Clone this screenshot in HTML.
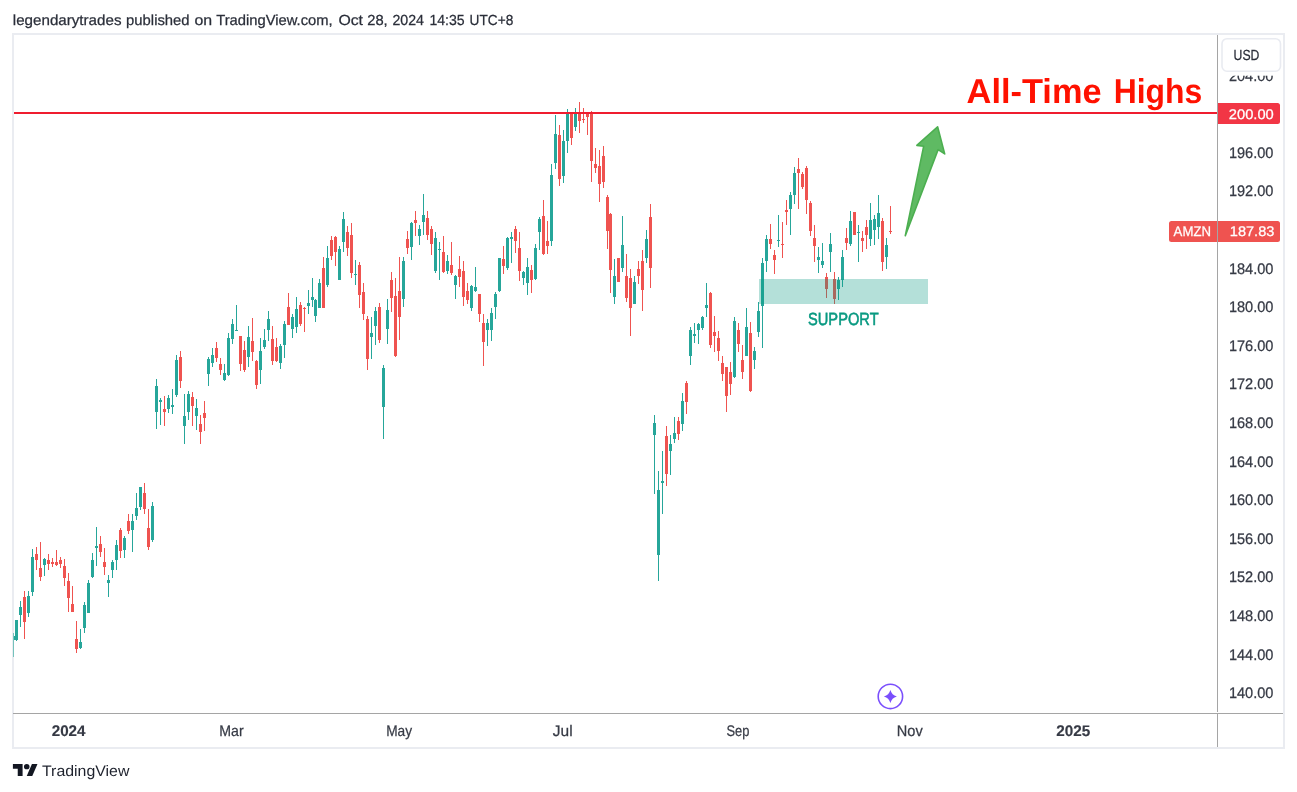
<!DOCTYPE html>
<html><head><meta charset="utf-8"><title>AMZN chart</title>
<style>
html,body{margin:0;padding:0;background:#fff;}
body{width:1297px;height:792px;overflow:hidden;position:relative;font-family:"Liberation Sans", Arial, sans-serif;}
svg{position:absolute;left:0;top:0;display:block;}
svg text{font-family:"Liberation Sans", Arial, sans-serif;text-rendering:geometricPrecision;}
</style></head><body>
<svg width="1297" height="792" viewBox="0 0 1297 792">
<rect x="0" y="0" width="1297" height="792" fill="#fff"/>
<!-- frame -->
<rect x="13" y="34" width="1271" height="714" fill="#fff" stroke="#eaecf1" stroke-width="2" shape-rendering="crispEdges"/>
<text y="25" font-size="14.6" fill="#2a2e39" stroke="#2a2e39" stroke-width="0.25"><tspan x="12.8" textLength="108.7" lengthAdjust="spacingAndGlyphs">legendarytrades</tspan> <tspan x="126.1" textLength="63.5" lengthAdjust="spacingAndGlyphs">published</tspan> <tspan x="194.4" textLength="17.7" lengthAdjust="spacingAndGlyphs">on</tspan> <tspan x="216.2" textLength="116.5" lengthAdjust="spacingAndGlyphs">TradingView.com,</tspan> <tspan x="338.4" textLength="24.6" lengthAdjust="spacingAndGlyphs">Oct</tspan> <tspan x="367.2" textLength="20.5" lengthAdjust="spacingAndGlyphs">28,</tspan> <tspan x="392.4" textLength="31.6" lengthAdjust="spacingAndGlyphs">2024</tspan> <tspan x="429.4" textLength="35.3" lengthAdjust="spacingAndGlyphs">14:35</tspan> <tspan x="469.6" textLength="43.7" lengthAdjust="spacingAndGlyphs">UTC+8</tspan></text>
<!-- price labels -->
<text x="1228.9" y="81" font-size="15.3" fill="#363a45" stroke="#363a45" stroke-width="0.25" font-weight="normal" text-anchor="start" textLength="44.6" lengthAdjust="spacingAndGlyphs">204.00</text>
<text x="1228.9" y="158" font-size="15.3" fill="#363a45" stroke="#363a45" stroke-width="0.25" font-weight="normal" text-anchor="start" textLength="44.6" lengthAdjust="spacingAndGlyphs">196.00</text>
<text x="1228.9" y="196" font-size="15.3" fill="#363a45" stroke="#363a45" stroke-width="0.25" font-weight="normal" text-anchor="start" textLength="44.6" lengthAdjust="spacingAndGlyphs">192.00</text>
<text x="1228.9" y="274" font-size="15.3" fill="#363a45" stroke="#363a45" stroke-width="0.25" font-weight="normal" text-anchor="start" textLength="44.6" lengthAdjust="spacingAndGlyphs">184.00</text>
<text x="1228.9" y="312" font-size="15.3" fill="#363a45" stroke="#363a45" stroke-width="0.25" font-weight="normal" text-anchor="start" textLength="44.6" lengthAdjust="spacingAndGlyphs">180.00</text>
<text x="1228.9" y="351" font-size="15.3" fill="#363a45" stroke="#363a45" stroke-width="0.25" font-weight="normal" text-anchor="start" textLength="44.6" lengthAdjust="spacingAndGlyphs">176.00</text>
<text x="1228.9" y="389" font-size="15.3" fill="#363a45" stroke="#363a45" stroke-width="0.25" font-weight="normal" text-anchor="start" textLength="44.6" lengthAdjust="spacingAndGlyphs">172.00</text>
<text x="1228.9" y="428" font-size="15.3" fill="#363a45" stroke="#363a45" stroke-width="0.25" font-weight="normal" text-anchor="start" textLength="44.6" lengthAdjust="spacingAndGlyphs">168.00</text>
<text x="1228.9" y="467" font-size="15.3" fill="#363a45" stroke="#363a45" stroke-width="0.25" font-weight="normal" text-anchor="start" textLength="44.6" lengthAdjust="spacingAndGlyphs">164.00</text>
<text x="1228.9" y="505" font-size="15.3" fill="#363a45" stroke="#363a45" stroke-width="0.25" font-weight="normal" text-anchor="start" textLength="44.6" lengthAdjust="spacingAndGlyphs">160.00</text>
<text x="1228.9" y="544" font-size="15.3" fill="#363a45" stroke="#363a45" stroke-width="0.25" font-weight="normal" text-anchor="start" textLength="44.6" lengthAdjust="spacingAndGlyphs">156.00</text>
<text x="1228.9" y="582" font-size="15.3" fill="#363a45" stroke="#363a45" stroke-width="0.25" font-weight="normal" text-anchor="start" textLength="44.6" lengthAdjust="spacingAndGlyphs">152.00</text>
<text x="1228.9" y="621" font-size="15.3" fill="#363a45" stroke="#363a45" stroke-width="0.25" font-weight="normal" text-anchor="start" textLength="44.6" lengthAdjust="spacingAndGlyphs">148.00</text>
<text x="1228.9" y="660" font-size="15.3" fill="#363a45" stroke="#363a45" stroke-width="0.25" font-weight="normal" text-anchor="start" textLength="44.6" lengthAdjust="spacingAndGlyphs">144.00</text>
<text x="1228.9" y="698" font-size="15.3" fill="#363a45" stroke="#363a45" stroke-width="0.25" font-weight="normal" text-anchor="start" textLength="44.6" lengthAdjust="spacingAndGlyphs">140.00</text>
<!-- candles -->
<g shape-rendering="crispEdges">
<rect x="13" y="633" width="1" height="24" fill="#26a69a" opacity="0.6"/><rect x="14" y="636" width="1" height="4" fill="#26a69a"/>
<rect x="16" y="620" width="1" height="21" fill="#26a69a"/>
<rect x="20" y="601" width="1" height="26" fill="#26a69a"/>
<rect x="24" y="591" width="1" height="48" fill="#ef5350"/>
<rect x="28" y="591" width="1" height="26" fill="#26a69a"/>
<rect x="32" y="549" width="1" height="47" fill="#26a69a"/>
<rect x="36" y="547" width="1" height="23" fill="#ef5350"/>
<rect x="40" y="542" width="1" height="39" fill="#ef5350"/>
<rect x="44" y="558" width="1" height="18" fill="#26a69a"/>
<rect x="48" y="554" width="1" height="16" fill="#ef5350"/>
<rect x="52" y="558" width="1" height="9" fill="#ef5350"/>
<rect x="56" y="550" width="1" height="16" fill="#ef5350"/>
<rect x="60" y="557" width="1" height="11" fill="#ef5350"/>
<rect x="64" y="559" width="1" height="27" fill="#ef5350"/>
<rect x="68" y="573" width="1" height="39" fill="#ef5350"/>
<rect x="72" y="586" width="1" height="26" fill="#ef5350"/>
<rect x="76" y="621" width="1" height="32" fill="#ef5350"/>
<rect x="80" y="629" width="1" height="20" fill="#26a69a"/>
<rect x="84" y="602" width="1" height="31" fill="#26a69a"/>
<rect x="88" y="580" width="1" height="33" fill="#26a69a"/>
<rect x="92" y="553" width="1" height="25" fill="#26a69a"/>
<rect x="96" y="527" width="1" height="39" fill="#26a69a"/>
<rect x="100" y="536" width="1" height="21" fill="#ef5350"/>
<rect x="104" y="548" width="1" height="27" fill="#ef5350"/>
<rect x="108" y="575" width="1" height="22" fill="#26a69a"/>
<rect x="112" y="560" width="1" height="18" fill="#26a69a"/>
<rect x="116" y="540" width="1" height="30" fill="#26a69a"/>
<rect x="120" y="528" width="1" height="30" fill="#ef5350"/>
<rect x="124" y="536" width="1" height="22" fill="#26a69a"/>
<rect x="128" y="514" width="1" height="20" fill="#ef5350"/>
<rect x="132" y="514" width="1" height="38" fill="#26a69a"/>
<rect x="136" y="493" width="1" height="27" fill="#26a69a"/>
<rect x="140" y="487" width="1" height="23" fill="#26a69a"/>
<rect x="144" y="483" width="1" height="31" fill="#ef5350"/>
<rect x="148" y="509" width="1" height="41" fill="#ef5350"/>
<rect x="152" y="502" width="1" height="40" fill="#26a69a"/>
<rect x="156" y="379" width="1" height="50" fill="#26a69a"/>
<rect x="160" y="398" width="1" height="27" fill="#26a69a"/>
<rect x="164" y="396" width="1" height="30" fill="#ef5350"/>
<rect x="168" y="395" width="1" height="18" fill="#26a69a"/>
<rect x="172" y="389" width="1" height="25" fill="#26a69a"/>
<rect x="176" y="355" width="1" height="42" fill="#26a69a"/>
<rect x="180" y="351" width="1" height="37" fill="#ef5350"/>
<rect x="184" y="394" width="1" height="50" fill="#26a69a"/>
<rect x="188" y="391" width="1" height="29" fill="#26a69a"/>
<rect x="192" y="392" width="1" height="34" fill="#ef5350"/>
<rect x="196" y="399" width="1" height="31" fill="#26a69a"/>
<rect x="200" y="415" width="1" height="29" fill="#ef5350"/>
<rect x="204" y="401" width="1" height="30" fill="#ef5350"/>
<rect x="208" y="357" width="1" height="29" fill="#26a69a"/>
<rect x="212" y="348" width="1" height="19" fill="#26a69a"/>
<rect x="216" y="342" width="1" height="20" fill="#ef5350"/>
<rect x="220" y="358" width="1" height="17" fill="#ef5350"/>
<rect x="224" y="364" width="1" height="17" fill="#26a69a"/>
<rect x="228" y="333" width="1" height="43" fill="#26a69a"/>
<rect x="232" y="319" width="1" height="25" fill="#26a69a"/>
<rect x="236" y="305" width="1" height="26" fill="#26a69a"/>
<rect x="240" y="336" width="1" height="35" fill="#ef5350"/>
<rect x="244" y="341" width="1" height="31" fill="#ef5350"/>
<rect x="248" y="326" width="1" height="41" fill="#26a69a"/>
<rect x="252" y="318" width="1" height="43" fill="#ef5350"/>
<rect x="256" y="360" width="1" height="29" fill="#ef5350"/>
<rect x="260" y="338" width="1" height="46" fill="#26a69a"/>
<rect x="264" y="329" width="1" height="20" fill="#26a69a"/>
<rect x="268" y="311" width="1" height="30" fill="#26a69a"/>
<rect x="272" y="326" width="1" height="39" fill="#ef5350"/>
<rect x="276" y="338" width="1" height="24" fill="#ef5350"/>
<rect x="280" y="344" width="1" height="25" fill="#26a69a"/>
<rect x="284" y="321" width="1" height="37" fill="#26a69a"/>
<rect x="288" y="293" width="1" height="32" fill="#ef5350"/>
<rect x="292" y="314" width="1" height="24" fill="#26a69a"/>
<rect x="296" y="297" width="1" height="36" fill="#26a69a"/>
<rect x="300" y="302" width="1" height="24" fill="#ef5350"/>
<rect x="304" y="307" width="1" height="25" fill="#ef5350"/>
<rect x="308" y="290" width="1" height="24" fill="#26a69a"/>
<rect x="312" y="278" width="1" height="29" fill="#26a69a"/>
<rect x="315" y="299" width="1" height="23" fill="#26a69a"/>
<rect x="319" y="279" width="1" height="29" fill="#26a69a"/>
<rect x="323" y="257" width="1" height="51" fill="#ef5350"/>
<rect x="327" y="246" width="1" height="41" fill="#26a69a"/>
<rect x="331" y="236" width="1" height="24" fill="#ef5350"/>
<rect x="335" y="236" width="1" height="30" fill="#ef5350"/>
<rect x="339" y="246" width="1" height="34" fill="#26a69a"/>
<rect x="343" y="212" width="1" height="40" fill="#26a69a"/>
<rect x="347" y="226" width="1" height="30" fill="#ef5350"/>
<rect x="351" y="223" width="1" height="55" fill="#ef5350"/>
<rect x="355" y="260" width="1" height="25" fill="#26a69a"/>
<rect x="359" y="262" width="1" height="46" fill="#ef5350"/>
<rect x="363" y="283" width="1" height="37" fill="#ef5350"/>
<rect x="367" y="316" width="1" height="54" fill="#ef5350"/>
<rect x="371" y="317" width="1" height="42" fill="#26a69a"/>
<rect x="375" y="307" width="1" height="38" fill="#26a69a"/>
<rect x="379" y="303" width="1" height="40" fill="#ef5350"/>
<rect x="383" y="365" width="1" height="74" fill="#26a69a"/>
<rect x="387" y="299" width="1" height="45" fill="#26a69a"/>
<rect x="391" y="272" width="1" height="40" fill="#ef5350"/>
<rect x="395" y="278" width="1" height="79" fill="#ef5350"/>
<rect x="399" y="257" width="1" height="83" fill="#ef5350"/>
<rect x="403" y="257" width="1" height="50" fill="#26a69a"/>
<rect x="407" y="231" width="1" height="23" fill="#ef5350"/>
<rect x="411" y="222" width="1" height="38" fill="#26a69a"/>
<rect x="415" y="211" width="1" height="25" fill="#ef5350"/>
<rect x="419" y="225" width="1" height="20" fill="#26a69a"/>
<rect x="423" y="194" width="1" height="41" fill="#26a69a"/>
<rect x="427" y="211" width="1" height="29" fill="#ef5350"/>
<rect x="431" y="226" width="1" height="29" fill="#ef5350"/>
<rect x="435" y="232" width="1" height="41" fill="#26a69a"/>
<rect x="439" y="242" width="1" height="38" fill="#26a69a"/>
<rect x="443" y="236" width="1" height="37" fill="#ef5350"/>
<rect x="447" y="255" width="1" height="19" fill="#26a69a"/>
<rect x="451" y="242" width="1" height="33" fill="#ef5350"/>
<rect x="455" y="275" width="1" height="24" fill="#26a69a"/>
<rect x="459" y="256" width="1" height="31" fill="#ef5350"/>
<rect x="463" y="261" width="1" height="45" fill="#ef5350"/>
<rect x="467" y="283" width="1" height="21" fill="#ef5350"/>
<rect x="471" y="285" width="1" height="26" fill="#26a69a"/>
<rect x="475" y="267" width="1" height="25" fill="#26a69a"/>
<rect x="479" y="294" width="1" height="28" fill="#ef5350"/>
<rect x="483" y="314" width="1" height="52" fill="#ef5350"/>
<rect x="487" y="319" width="1" height="27" fill="#26a69a"/>
<rect x="491" y="308" width="1" height="33" fill="#26a69a"/>
<rect x="495" y="292" width="1" height="27" fill="#26a69a"/>
<rect x="499" y="258" width="1" height="34" fill="#26a69a"/>
<rect x="503" y="246" width="1" height="28" fill="#ef5350"/>
<rect x="507" y="237" width="1" height="33" fill="#26a69a"/>
<rect x="511" y="232" width="1" height="31" fill="#26a69a"/>
<rect x="515" y="226" width="1" height="27" fill="#ef5350"/>
<rect x="519" y="232" width="1" height="49" fill="#ef5350"/>
<rect x="523" y="271" width="1" height="14" fill="#26a69a"/>
<rect x="527" y="258" width="1" height="37" fill="#26a69a"/>
<rect x="531" y="265" width="1" height="28" fill="#ef5350"/>
<rect x="535" y="244" width="1" height="36" fill="#26a69a"/>
<rect x="539" y="217" width="1" height="33" fill="#26a69a"/>
<rect x="543" y="200" width="1" height="55" fill="#ef5350"/>
<rect x="547" y="221" width="1" height="33" fill="#ef5350"/>
<rect x="551" y="164" width="1" height="82" fill="#26a69a"/>
<rect x="555" y="115" width="1" height="54" fill="#26a69a"/>
<rect x="559" y="125" width="1" height="61" fill="#ef5350"/>
<rect x="563" y="130" width="1" height="53" fill="#26a69a"/>
<rect x="567" y="109" width="1" height="44" fill="#26a69a"/>
<rect x="571" y="113" width="1" height="32" fill="#ef5350"/>
<rect x="575" y="108" width="1" height="23" fill="#26a69a"/>
<rect x="579" y="102" width="1" height="31" fill="#ef5350"/>
<rect x="583" y="108" width="1" height="15" fill="#ef5350"/>
<rect x="587" y="113" width="1" height="22" fill="#ef5350"/>
<rect x="591" y="111" width="1" height="71" fill="#ef5350"/>
<rect x="595" y="148" width="1" height="25" fill="#ef5350"/>
<rect x="599" y="150" width="1" height="52" fill="#ef5350"/>
<rect x="603" y="146" width="1" height="42" fill="#ef5350"/>
<rect x="607" y="195" width="1" height="54" fill="#ef5350"/>
<rect x="610" y="213" width="1" height="80" fill="#ef5350"/>
<rect x="614" y="259" width="1" height="45" fill="#26a69a"/>
<rect x="618" y="258" width="1" height="24" fill="#ef5350"/>
<rect x="622" y="216" width="1" height="56" fill="#26a69a"/>
<rect x="626" y="254" width="1" height="48" fill="#ef5350"/>
<rect x="630" y="269" width="1" height="67" fill="#ef5350"/>
<rect x="634" y="276" width="1" height="28" fill="#26a69a"/>
<rect x="638" y="261" width="1" height="23" fill="#ef5350"/>
<rect x="642" y="250" width="1" height="61" fill="#ef5350"/>
<rect x="646" y="230" width="1" height="33" fill="#26a69a"/>
<rect x="650" y="204" width="1" height="84" fill="#ef5350"/>
<rect x="654" y="415" width="1" height="79" fill="#26a69a"/>
<rect x="658" y="471" width="1" height="110" fill="#26a69a"/>
<rect x="662" y="451" width="1" height="63" fill="#26a69a"/>
<rect x="666" y="426" width="1" height="60" fill="#ef5350"/>
<rect x="670" y="435" width="1" height="40" fill="#26a69a"/>
<rect x="674" y="417" width="1" height="26" fill="#26a69a"/>
<rect x="678" y="417" width="1" height="23" fill="#ef5350"/>
<rect x="682" y="393" width="1" height="38" fill="#26a69a"/>
<rect x="686" y="381" width="1" height="33" fill="#ef5350"/>
<rect x="690" y="327" width="1" height="38" fill="#26a69a"/>
<rect x="694" y="323" width="1" height="20" fill="#26a69a"/>
<rect x="698" y="323" width="1" height="21" fill="#26a69a"/>
<rect x="702" y="316" width="1" height="14" fill="#26a69a"/>
<rect x="706" y="283" width="1" height="34" fill="#26a69a"/>
<rect x="710" y="292" width="1" height="56" fill="#ef5350"/>
<rect x="714" y="316" width="1" height="36" fill="#ef5350"/>
<rect x="718" y="331" width="1" height="30" fill="#ef5350"/>
<rect x="722" y="356" width="1" height="25" fill="#ef5350"/>
<rect x="726" y="367" width="1" height="45" fill="#ef5350"/>
<rect x="730" y="362" width="1" height="33" fill="#ef5350"/>
<rect x="734" y="317" width="1" height="61" fill="#26a69a"/>
<rect x="738" y="323" width="1" height="29" fill="#ef5350"/>
<rect x="742" y="345" width="1" height="34" fill="#ef5350"/>
<rect x="746" y="308" width="1" height="48" fill="#26a69a"/>
<rect x="750" y="322" width="1" height="70" fill="#ef5350"/>
<rect x="754" y="347" width="1" height="22" fill="#26a69a"/>
<rect x="758" y="302" width="1" height="35" fill="#26a69a"/>
<rect x="762" y="258" width="1" height="90" fill="#26a69a"/>
<rect x="766" y="235" width="1" height="37" fill="#26a69a"/>
<rect x="770" y="224" width="1" height="25" fill="#ef5350"/>
<rect x="774" y="250" width="1" height="24" fill="#ef5350"/>
<rect x="778" y="215" width="1" height="32" fill="#26a69a"/>
<rect x="782" y="222" width="1" height="36" fill="#ef5350"/>
<rect x="786" y="200" width="1" height="25" fill="#ef5350"/>
<rect x="790" y="192" width="1" height="43" fill="#26a69a"/>
<rect x="794" y="167" width="1" height="37" fill="#26a69a"/>
<rect x="798" y="158" width="1" height="51" fill="#ef5350"/>
<rect x="802" y="172" width="1" height="17" fill="#ef5350"/>
<rect x="806" y="166" width="1" height="48" fill="#ef5350"/>
<rect x="810" y="201" width="1" height="35" fill="#ef5350"/>
<rect x="814" y="225" width="1" height="37" fill="#ef5350"/>
<rect x="818" y="247" width="1" height="26" fill="#26a69a"/>
<rect x="822" y="243" width="1" height="25" fill="#26a69a"/>
<rect x="826" y="273" width="1" height="25" fill="#ef5350"/>
<rect x="830" y="233" width="1" height="39" fill="#26a69a"/>
<rect x="834" y="272" width="1" height="32" fill="#ef5350"/>
<rect x="838" y="277" width="1" height="23" fill="#26a69a"/>
<rect x="842" y="250" width="1" height="37" fill="#26a69a"/>
<rect x="846" y="228" width="1" height="22" fill="#ef5350"/>
<rect x="850" y="211" width="1" height="35" fill="#26a69a"/>
<rect x="854" y="212" width="1" height="23" fill="#ef5350"/>
<rect x="858" y="225" width="1" height="37" fill="#26a69a"/>
<rect x="862" y="231" width="1" height="21" fill="#ef5350"/>
<rect x="866" y="220" width="1" height="29" fill="#ef5350"/>
<rect x="870" y="203" width="1" height="43" fill="#26a69a"/>
<rect x="874" y="215" width="1" height="30" fill="#26a69a"/>
<rect x="878" y="195" width="1" height="44" fill="#26a69a"/>
<rect x="882" y="218" width="1" height="53" fill="#ef5350"/>
<rect x="886" y="238" width="1" height="31" fill="#26a69a"/>
<rect x="890" y="206" width="1" height="28" fill="#ef5350"/>
<rect x="15" y="620" width="3" height="20" fill="#26a69a"/>
<rect x="19" y="607" width="3" height="8" fill="#26a69a"/>
<rect x="23" y="597" width="3" height="25" fill="#ef5350"/>
<rect x="27" y="596" width="3" height="17" fill="#26a69a"/>
<rect x="31" y="557" width="3" height="35" fill="#26a69a"/>
<rect x="35" y="554" width="3" height="6" fill="#ef5350"/>
<rect x="39" y="568" width="3" height="9" fill="#ef5350"/>
<rect x="43" y="559" width="3" height="6" fill="#26a69a"/>
<rect x="47" y="560" width="3" height="4" fill="#ef5350"/>
<rect x="51" y="562" width="3" height="2" fill="#ef5350"/>
<rect x="55" y="562" width="3" height="3" fill="#ef5350"/>
<rect x="59" y="560" width="3" height="4" fill="#ef5350"/>
<rect x="63" y="566" width="3" height="12" fill="#ef5350"/>
<rect x="67" y="581" width="3" height="17" fill="#ef5350"/>
<rect x="71" y="604" width="3" height="8" fill="#ef5350"/>
<rect x="75" y="639" width="3" height="10" fill="#ef5350"/>
<rect x="79" y="642" width="3" height="6" fill="#26a69a"/>
<rect x="83" y="605" width="3" height="23" fill="#26a69a"/>
<rect x="87" y="583" width="3" height="30" fill="#26a69a"/>
<rect x="91" y="560" width="3" height="17" fill="#26a69a"/>
<rect x="95" y="546" width="3" height="2" fill="#26a69a"/>
<rect x="99" y="544" width="3" height="8" fill="#ef5350"/>
<rect x="103" y="562" width="3" height="5" fill="#ef5350"/>
<rect x="107" y="580" width="3" height="3" fill="#26a69a"/>
<rect x="111" y="562" width="3" height="8" fill="#26a69a"/>
<rect x="115" y="545" width="3" height="15" fill="#26a69a"/>
<rect x="119" y="530" width="3" height="21" fill="#ef5350"/>
<rect x="123" y="538" width="3" height="12" fill="#26a69a"/>
<rect x="127" y="521" width="3" height="10" fill="#ef5350"/>
<rect x="131" y="521" width="3" height="9" fill="#26a69a"/>
<rect x="135" y="508" width="3" height="8" fill="#26a69a"/>
<rect x="139" y="487" width="3" height="20" fill="#26a69a"/>
<rect x="143" y="493" width="3" height="16" fill="#ef5350"/>
<rect x="147" y="528" width="3" height="19" fill="#ef5350"/>
<rect x="151" y="506" width="3" height="34" fill="#26a69a"/>
<rect x="155" y="386" width="3" height="26" fill="#26a69a"/>
<rect x="159" y="400" width="3" height="2" fill="#26a69a"/>
<rect x="163" y="409" width="3" height="3" fill="#ef5350"/>
<rect x="167" y="398" width="3" height="11" fill="#26a69a"/>
<rect x="171" y="405" width="3" height="2" fill="#26a69a"/>
<rect x="175" y="360" width="3" height="35" fill="#26a69a"/>
<rect x="179" y="357" width="3" height="24" fill="#ef5350"/>
<rect x="183" y="416" width="3" height="10" fill="#26a69a"/>
<rect x="187" y="394" width="3" height="18" fill="#26a69a"/>
<rect x="191" y="397" width="3" height="9" fill="#ef5350"/>
<rect x="195" y="408" width="3" height="8" fill="#26a69a"/>
<rect x="199" y="424" width="3" height="8" fill="#ef5350"/>
<rect x="203" y="413" width="3" height="5" fill="#ef5350"/>
<rect x="207" y="359" width="3" height="15" fill="#26a69a"/>
<rect x="211" y="355" width="3" height="8" fill="#26a69a"/>
<rect x="215" y="348" width="3" height="10" fill="#ef5350"/>
<rect x="219" y="364" width="3" height="6" fill="#ef5350"/>
<rect x="223" y="373" width="3" height="7" fill="#26a69a"/>
<rect x="227" y="338" width="3" height="37" fill="#26a69a"/>
<rect x="231" y="324" width="3" height="15" fill="#26a69a"/>
<rect x="235" y="330" width="3" height="1" fill="#26a69a"/>
<rect x="239" y="336" width="3" height="28" fill="#ef5350"/>
<rect x="243" y="350" width="3" height="20" fill="#ef5350"/>
<rect x="247" y="337" width="3" height="20" fill="#26a69a"/>
<rect x="251" y="341" width="3" height="11" fill="#ef5350"/>
<rect x="255" y="361" width="3" height="24" fill="#ef5350"/>
<rect x="259" y="351" width="3" height="19" fill="#26a69a"/>
<rect x="263" y="340" width="3" height="7" fill="#26a69a"/>
<rect x="267" y="319" width="3" height="11" fill="#26a69a"/>
<rect x="271" y="339" width="3" height="22" fill="#ef5350"/>
<rect x="275" y="347" width="3" height="14" fill="#ef5350"/>
<rect x="279" y="346" width="3" height="17" fill="#26a69a"/>
<rect x="283" y="324" width="3" height="21" fill="#26a69a"/>
<rect x="287" y="307" width="3" height="18" fill="#ef5350"/>
<rect x="291" y="317" width="3" height="12" fill="#26a69a"/>
<rect x="295" y="309" width="3" height="18" fill="#26a69a"/>
<rect x="299" y="305" width="3" height="19" fill="#ef5350"/>
<rect x="303" y="308" width="3" height="1" fill="#ef5350"/>
<rect x="307" y="303" width="3" height="3" fill="#26a69a"/>
<rect x="311" y="297" width="3" height="3" fill="#26a69a"/>
<rect x="314" y="300" width="3" height="16" fill="#26a69a"/>
<rect x="318" y="283" width="3" height="25" fill="#26a69a"/>
<rect x="322" y="268" width="3" height="40" fill="#ef5350"/>
<rect x="326" y="258" width="3" height="27" fill="#26a69a"/>
<rect x="330" y="240" width="3" height="16" fill="#ef5350"/>
<rect x="334" y="237" width="3" height="15" fill="#ef5350"/>
<rect x="338" y="249" width="3" height="31" fill="#26a69a"/>
<rect x="342" y="219" width="3" height="23" fill="#26a69a"/>
<rect x="346" y="232" width="3" height="16" fill="#ef5350"/>
<rect x="350" y="235" width="3" height="38" fill="#ef5350"/>
<rect x="354" y="274" width="3" height="1" fill="#26a69a"/>
<rect x="358" y="265" width="3" height="30" fill="#ef5350"/>
<rect x="362" y="292" width="3" height="22" fill="#ef5350"/>
<rect x="366" y="319" width="3" height="40" fill="#ef5350"/>
<rect x="370" y="333" width="3" height="4" fill="#26a69a"/>
<rect x="374" y="311" width="3" height="15" fill="#26a69a"/>
<rect x="378" y="307" width="3" height="33" fill="#ef5350"/>
<rect x="382" y="368" width="3" height="39" fill="#26a69a"/>
<rect x="386" y="310" width="3" height="19" fill="#26a69a"/>
<rect x="390" y="280" width="3" height="18" fill="#ef5350"/>
<rect x="394" y="296" width="3" height="60" fill="#ef5350"/>
<rect x="398" y="291" width="3" height="26" fill="#ef5350"/>
<rect x="402" y="261" width="3" height="38" fill="#26a69a"/>
<rect x="406" y="239" width="3" height="9" fill="#ef5350"/>
<rect x="410" y="223" width="3" height="24" fill="#26a69a"/>
<rect x="414" y="220" width="3" height="3" fill="#ef5350"/>
<rect x="418" y="229" width="3" height="7" fill="#26a69a"/>
<rect x="422" y="215" width="3" height="7" fill="#26a69a"/>
<rect x="426" y="218" width="3" height="17" fill="#ef5350"/>
<rect x="430" y="229" width="3" height="15" fill="#ef5350"/>
<rect x="434" y="238" width="3" height="33" fill="#26a69a"/>
<rect x="438" y="249" width="3" height="1" fill="#26a69a"/>
<rect x="442" y="252" width="3" height="20" fill="#ef5350"/>
<rect x="446" y="261" width="3" height="10" fill="#26a69a"/>
<rect x="450" y="265" width="3" height="8" fill="#ef5350"/>
<rect x="454" y="276" width="3" height="9" fill="#26a69a"/>
<rect x="458" y="269" width="3" height="8" fill="#ef5350"/>
<rect x="462" y="271" width="3" height="26" fill="#ef5350"/>
<rect x="466" y="291" width="3" height="9" fill="#ef5350"/>
<rect x="470" y="286" width="3" height="22" fill="#26a69a"/>
<rect x="474" y="287" width="3" height="4" fill="#26a69a"/>
<rect x="478" y="294" width="3" height="20" fill="#ef5350"/>
<rect x="482" y="323" width="3" height="19" fill="#ef5350"/>
<rect x="486" y="323" width="3" height="7" fill="#26a69a"/>
<rect x="490" y="313" width="3" height="17" fill="#26a69a"/>
<rect x="494" y="294" width="3" height="13" fill="#26a69a"/>
<rect x="498" y="258" width="3" height="33" fill="#26a69a"/>
<rect x="502" y="259" width="3" height="7" fill="#ef5350"/>
<rect x="506" y="238" width="3" height="30" fill="#26a69a"/>
<rect x="510" y="237" width="3" height="2" fill="#26a69a"/>
<rect x="514" y="229" width="3" height="12" fill="#ef5350"/>
<rect x="518" y="248" width="3" height="23" fill="#ef5350"/>
<rect x="522" y="272" width="3" height="6" fill="#26a69a"/>
<rect x="526" y="267" width="3" height="16" fill="#26a69a"/>
<rect x="530" y="270" width="3" height="10" fill="#ef5350"/>
<rect x="534" y="248" width="3" height="31" fill="#26a69a"/>
<rect x="538" y="219" width="3" height="13" fill="#26a69a"/>
<rect x="542" y="216" width="3" height="38" fill="#ef5350"/>
<rect x="546" y="241" width="3" height="5" fill="#ef5350"/>
<rect x="550" y="175" width="3" height="66" fill="#26a69a"/>
<rect x="554" y="134" width="3" height="29" fill="#26a69a"/>
<rect x="558" y="135" width="3" height="44" fill="#ef5350"/>
<rect x="562" y="141" width="3" height="35" fill="#26a69a"/>
<rect x="566" y="114" width="3" height="27" fill="#26a69a"/>
<rect x="570" y="113" width="3" height="25" fill="#ef5350"/>
<rect x="574" y="114" width="3" height="13" fill="#26a69a"/>
<rect x="578" y="114" width="3" height="7" fill="#ef5350"/>
<rect x="582" y="119" width="3" height="1" fill="#ef5350"/>
<rect x="586" y="114" width="3" height="3" fill="#ef5350"/>
<rect x="590" y="113" width="3" height="48" fill="#ef5350"/>
<rect x="594" y="164" width="3" height="4" fill="#ef5350"/>
<rect x="598" y="166" width="3" height="18" fill="#ef5350"/>
<rect x="602" y="156" width="3" height="26" fill="#ef5350"/>
<rect x="606" y="197" width="3" height="34" fill="#ef5350"/>
<rect x="609" y="214" width="3" height="56" fill="#ef5350"/>
<rect x="613" y="276" width="3" height="21" fill="#26a69a"/>
<rect x="617" y="258" width="3" height="24" fill="#ef5350"/>
<rect x="621" y="245" width="3" height="23" fill="#26a69a"/>
<rect x="625" y="276" width="3" height="22" fill="#ef5350"/>
<rect x="629" y="278" width="3" height="30" fill="#ef5350"/>
<rect x="633" y="282" width="3" height="22" fill="#26a69a"/>
<rect x="637" y="269" width="3" height="7" fill="#ef5350"/>
<rect x="641" y="261" width="3" height="29" fill="#ef5350"/>
<rect x="645" y="239" width="3" height="19" fill="#26a69a"/>
<rect x="649" y="217" width="3" height="51" fill="#ef5350"/>
<rect x="653" y="423" width="3" height="12" fill="#26a69a"/>
<rect x="657" y="490" width="3" height="65" fill="#26a69a"/>
<rect x="661" y="481" width="3" height="2" fill="#26a69a"/>
<rect x="665" y="436" width="3" height="38" fill="#ef5350"/>
<rect x="669" y="444" width="3" height="7" fill="#26a69a"/>
<rect x="673" y="433" width="3" height="6" fill="#26a69a"/>
<rect x="677" y="421" width="3" height="13" fill="#ef5350"/>
<rect x="681" y="401" width="3" height="23" fill="#26a69a"/>
<rect x="685" y="383" width="3" height="19" fill="#ef5350"/>
<rect x="689" y="330" width="3" height="26" fill="#26a69a"/>
<rect x="693" y="334" width="3" height="2" fill="#26a69a"/>
<rect x="697" y="324" width="3" height="6" fill="#26a69a"/>
<rect x="701" y="317" width="3" height="11" fill="#26a69a"/>
<rect x="705" y="305" width="3" height="3" fill="#26a69a"/>
<rect x="709" y="293" width="3" height="52" fill="#ef5350"/>
<rect x="713" y="332" width="3" height="4" fill="#ef5350"/>
<rect x="717" y="338" width="3" height="13" fill="#ef5350"/>
<rect x="721" y="363" width="3" height="11" fill="#ef5350"/>
<rect x="725" y="367" width="3" height="29" fill="#ef5350"/>
<rect x="729" y="372" width="3" height="12" fill="#ef5350"/>
<rect x="733" y="321" width="3" height="56" fill="#26a69a"/>
<rect x="737" y="330" width="3" height="14" fill="#ef5350"/>
<rect x="741" y="360" width="3" height="12" fill="#ef5350"/>
<rect x="745" y="327" width="3" height="29" fill="#26a69a"/>
<rect x="749" y="333" width="3" height="58" fill="#ef5350"/>
<rect x="753" y="351" width="3" height="9" fill="#26a69a"/>
<rect x="757" y="311" width="3" height="21" fill="#26a69a"/>
<rect x="761" y="263" width="3" height="43" fill="#26a69a"/>
<rect x="765" y="239" width="3" height="22" fill="#26a69a"/>
<rect x="769" y="239" width="3" height="5" fill="#ef5350"/>
<rect x="773" y="255" width="3" height="5" fill="#ef5350"/>
<rect x="777" y="240" width="3" height="1" fill="#26a69a"/>
<rect x="781" y="244" width="3" height="1" fill="#ef5350"/>
<rect x="785" y="210" width="3" height="2" fill="#ef5350"/>
<rect x="789" y="195" width="3" height="14" fill="#26a69a"/>
<rect x="793" y="173" width="3" height="22" fill="#26a69a"/>
<rect x="797" y="169" width="3" height="4" fill="#ef5350"/>
<rect x="801" y="174" width="3" height="13" fill="#ef5350"/>
<rect x="805" y="168" width="3" height="32" fill="#ef5350"/>
<rect x="809" y="203" width="3" height="28" fill="#ef5350"/>
<rect x="813" y="238" width="3" height="8" fill="#ef5350"/>
<rect x="817" y="257" width="3" height="3" fill="#26a69a"/>
<rect x="821" y="261" width="3" height="4" fill="#26a69a"/>
<rect x="825" y="277" width="3" height="12" fill="#ef5350"/>
<rect x="829" y="244" width="3" height="8" fill="#26a69a"/>
<rect x="833" y="279" width="3" height="20" fill="#ef5350"/>
<rect x="837" y="280" width="3" height="9" fill="#26a69a"/>
<rect x="841" y="257" width="3" height="23" fill="#26a69a"/>
<rect x="845" y="238" width="3" height="5" fill="#ef5350"/>
<rect x="849" y="221" width="3" height="23" fill="#26a69a"/>
<rect x="853" y="212" width="3" height="23" fill="#ef5350"/>
<rect x="857" y="232" width="3" height="1" fill="#26a69a"/>
<rect x="861" y="238" width="3" height="3" fill="#ef5350"/>
<rect x="865" y="227" width="3" height="8" fill="#ef5350"/>
<rect x="869" y="220" width="3" height="19" fill="#26a69a"/>
<rect x="873" y="219" width="3" height="11" fill="#26a69a"/>
<rect x="877" y="213" width="3" height="14" fill="#26a69a"/>
<rect x="881" y="221" width="3" height="41" fill="#ef5350"/>
<rect x="885" y="245" width="3" height="12" fill="#26a69a"/>
<rect x="889" y="231" width="3" height="1" fill="#ef5350"/>
</g>
<!-- ATH line -->
<rect x="14" y="112" width="1203" height="2" fill="#ef1d2f" shape-rendering="crispEdges"/>
<!-- support box -->
<rect x="759" y="279" width="169" height="25" fill="rgba(8,153,129,0.3)" shape-rendering="crispEdges"/>
<text x="808" y="325" font-size="17.6" fill="#089981" stroke="#089981" stroke-width="0.55" textLength="70.6" lengthAdjust="spacingAndGlyphs">SUPPORT</text>
<text y="102.5" font-size="34.6" font-weight="bold" fill="#ff1100"><tspan x="966.6" textLength="135" lengthAdjust="spacingAndGlyphs">All-Time</tspan> <tspan x="1113.7" textLength="88.6" lengthAdjust="spacingAndGlyphs">Highs</tspan></text>
<!-- arrow -->
<path d="M905.3,235.7 L923.7,146.2 L916.8,145.4 L937.6,126.8 L944.7,153.9 L938.1,149.6 Z" fill="#5fba63" stroke="#4caf50" stroke-width="1.6" stroke-linejoin="round"/>
<!-- USD box -->
<rect x="1218" y="35" width="65" height="40.7" fill="#fff"/>
<rect x="1222" y="38.7" width="58.5" height="32.5" rx="5" ry="5" fill="#fff" stroke="#e9ebf1" stroke-width="1.6"/>
<text x="1233.6" y="59.8" font-size="14.6" fill="#2a2e39" stroke="#2a2e39" stroke-width="0.25" font-weight="normal" text-anchor="start" textLength="25.8" lengthAdjust="spacingAndGlyphs">USD</text>
<!-- 200 tag -->
<path d="M1218,103 H1277.5 Q1280,103 1280,105.5 V121.5 Q1280,124 1277.5,124 H1218 Z" fill="#f23645"/>
<text x="1228.8" y="118.6" font-size="14" fill="#fff" stroke="#fff" stroke-width="0.25" font-weight="normal" text-anchor="start" textLength="45" lengthAdjust="spacingAndGlyphs">200.00</text>
<!-- AMZN tag -->
<rect x="1169" y="221" width="111" height="21" rx="2.5" fill="#ef5350"/>
<text x="1173.6" y="236" font-size="14" fill="#fff" stroke="#fff" stroke-width="0.25" font-weight="normal" text-anchor="start" textLength="37.4" lengthAdjust="spacingAndGlyphs">AMZN</text>
<text x="1229.8" y="236" font-size="14" fill="#fff" stroke="#fff" stroke-width="0.25" font-weight="normal" text-anchor="start" textLength="44.6" lengthAdjust="spacingAndGlyphs">187.83</text>
<!-- axes -->
<g shape-rendering="crispEdges" fill="#a5a5a5">
<rect x="1217" y="35" width="1" height="677"/>
<rect x="1217" y="713" width="1" height="34"/>
<rect x="13" y="713" width="1270" height="1"/>
</g>
<text x="51.7" y="736" font-size="15.3" fill="#363a45" stroke="#363a45" stroke-width="0.15" font-weight="bold" text-anchor="start" textLength="33.8" lengthAdjust="spacingAndGlyphs">2024</text>
<text x="219.3" y="736" font-size="15.3" fill="#363a45" stroke="#363a45" stroke-width="0.25" font-weight="normal" text-anchor="start" textLength="24.4" lengthAdjust="spacingAndGlyphs">Mar</text>
<text x="386.2" y="736" font-size="15.3" fill="#363a45" stroke="#363a45" stroke-width="0.25" font-weight="normal" text-anchor="start" textLength="25.9" lengthAdjust="spacingAndGlyphs">May</text>
<text x="552.8" y="736" font-size="15.3" fill="#363a45" stroke="#363a45" stroke-width="0.25" font-weight="normal" text-anchor="start" textLength="19.8" lengthAdjust="spacingAndGlyphs">Jul</text>
<text x="726.5" y="736" font-size="15.3" fill="#363a45" stroke="#363a45" stroke-width="0.25" font-weight="normal" text-anchor="start" textLength="22.9" lengthAdjust="spacingAndGlyphs">Sep</text>
<text x="896.8" y="736" font-size="15.3" fill="#363a45" stroke="#363a45" stroke-width="0.25" font-weight="normal" text-anchor="start" textLength="25.9" lengthAdjust="spacingAndGlyphs">Nov</text>
<text x="1056.2" y="736" font-size="15.3" fill="#363a45" stroke="#363a45" stroke-width="0.15" font-weight="bold" text-anchor="start" textLength="34" lengthAdjust="spacingAndGlyphs">2025</text>
<!-- star icon -->
<circle cx="890.4" cy="696.4" r="12.2" fill="#fff" stroke="#7a4ffc" stroke-width="1.6"/>
<path transform="translate(890.4,696.4)" d="M0,-6.5 C1,-3 3,-1 6.5,0 C3,1 1,3 0,6.5 C-1,3 -3,1 -6.5,0 C-3,-1 -1,-3 0,-6.5 Z" fill="#7a4ffc"/>
<!-- TV logo -->
<g transform="translate(12.9,761.3) scale(0.692,0.6667)" fill="#131722">
<path d="M14 22H7V11H0V4h14v18z"/><circle cx="20" cy="8" r="4"/><path d="M28 22h-8l7.5-18h8L28 22z"/>
</g>
<text x="42" y="775.8" font-size="15.2" fill="#1e222d" textLength="87.4" lengthAdjust="spacingAndGlyphs">TradingView</text>
</svg>
</body></html>
